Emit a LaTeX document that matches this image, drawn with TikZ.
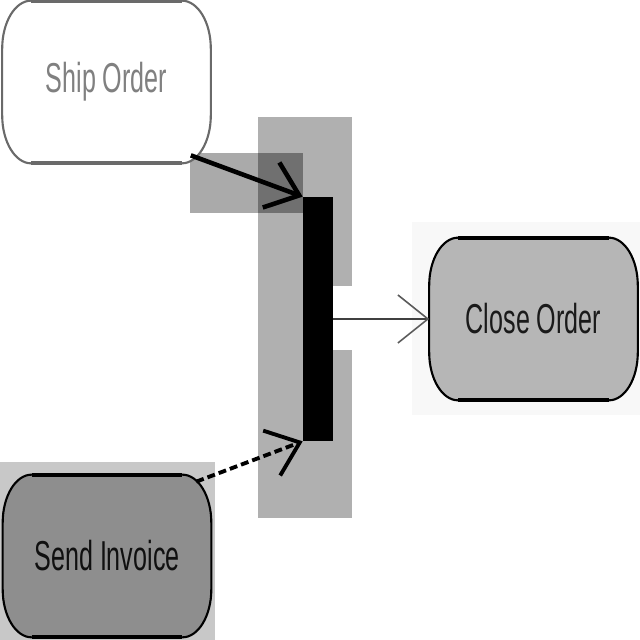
\documentclass[tikz,border=0pt]{standalone}
\usepackage{fontspec}
\setmainfont{Liberation Sans}
\usetikzlibrary{arrows.meta}
\pgfdeclarelayer{back}
\pgfdeclarelayer{boxes}
\pgfsetlayers{back,boxes,main}
\definecolor{shipline}{HTML}{6A6A6A}
\definecolor{shiptext}{HTML}{808080}
\definecolor{closefill}{HTML}{B6B6B6}
\definecolor{closetext}{HTML}{1A1A1A}
\definecolor{closebg}{HTML}{F8F8F8}
\definecolor{sendfill}{HTML}{8E8E8E}
\definecolor{sendtext}{HTML}{101010}
\definecolor{sendbg}{HTML}{C8C8C8}
\definecolor{hilite}{HTML}{B0B0B0}
\definecolor{squaregray}{HTML}{AAAAAA}
\definecolor{squaredark}{HTML}{707070}
\definecolor{linegray}{HTML}{404040}
\definecolor{tipgray}{HTML}{5A5A5A}
\newcommand{\pxUnit}{0.2mm}
\newcommand{\cornerX}{5.8mm}
\newcommand{\cornerY}{9.6mm}
\newcommand{\actFont}{\fontsize{23.8pt}{28pt}\selectfont}
\newcommand{\actShape}[3]{
  \draw[fill=#2, draw=#3, line width=1.2pt]
    ([xshift=\cornerX]#1.north west) -- ([xshift=-\cornerX]#1.north east)
    arc[start angle=90, end angle=0, x radius=\cornerX, y radius=\cornerY]
    -- ([yshift=\cornerY]#1.south east)
    arc[start angle=0, end angle=-90, x radius=\cornerX, y radius=\cornerY]
    -- ([xshift=\cornerX]#1.south west)
    arc[start angle=270, end angle=180, x radius=\cornerX, y radius=\cornerY]
    -- ([yshift=-\cornerY]#1.north west)
    arc[start angle=180, end angle=90, x radius=\cornerX, y radius=\cornerY]
    -- cycle;
  \draw[draw=#3, line width=2.2pt] ([xshift=\cornerX]#1.north west) -- ([xshift=-\cornerX]#1.north east);
  \draw[draw=#3, line width=2.2pt] ([xshift=\cornerX]#1.south west) -- ([xshift=-\cornerX]#1.south east);
}
\tikzset{
  actbox/.style={rectangle, inner sep=0pt, xscale=0.6, minimum width=69.4mm,
    minimum height=32.4mm, font=\actFont},
  joinbar/.style={rectangle, fill=black, inner sep=0pt, minimum width=6mm,
    minimum height=48.8mm},
  flowtip/.tip={Straight Barb[length=6mm, width=9.6mm]}
}

\begin{document}
\begin{tikzpicture}[x=\pxUnit, y=\pxUnit]
\useasboundingbox (0,0) rectangle (640,640);
\begin{pgfonlayer}{back}
\fill[white] (0,0) rectangle (640,640);
\fill[closebg] (412,225) rectangle (640,418);
\fill[sendbg] (0,0) rectangle (215,178);
\fill[hilite] (258,122) rectangle (352,523);
\fill[white] (333,290) rectangle (352,354);
\fill[squaregray] (190,427) rectangle (258,487);
\fill[squaredark] (258,427) rectangle (303,487);
\end{pgfonlayer}
      \node[actbox, text=shiptext] (ship) at (106.5,558) {Ship Order};
      \node[actbox, text=closetext] (close) at (533.5,321) {Close Order};
      \node[actbox, text=sendtext] (send) at (107,84) {Send Invoice};
      \node[joinbar] (join) at (318,321) {};
\begin{pgfonlayer}{boxes}
\actShape{ship}{white}{shipline}
\actShape{close}{closefill}{black}
\actShape{send}{sendfill}{black}
\end{pgfonlayer}
\coordinate (shipout) at ([shift={(-20,8)}]ship.south east);
\coordinate (sendout) at ([shift={(-15,-7)}]send.north east);
\draw[-flowtip, line width=2.6pt] (shipout) -- (join.north west);
\draw[-flowtip, line width=2.2pt, dash pattern=on 4.5pt off 2.3pt] (sendout) -- (join.south west);
\draw[-{Straight Barb[length=6mm, width=9.6mm, line width=0.9pt, color=tipgray]},
      line width=1.7pt, draw=linegray] (join.east) -- (close.west);
      \end{tikzpicture}
\end{document}
